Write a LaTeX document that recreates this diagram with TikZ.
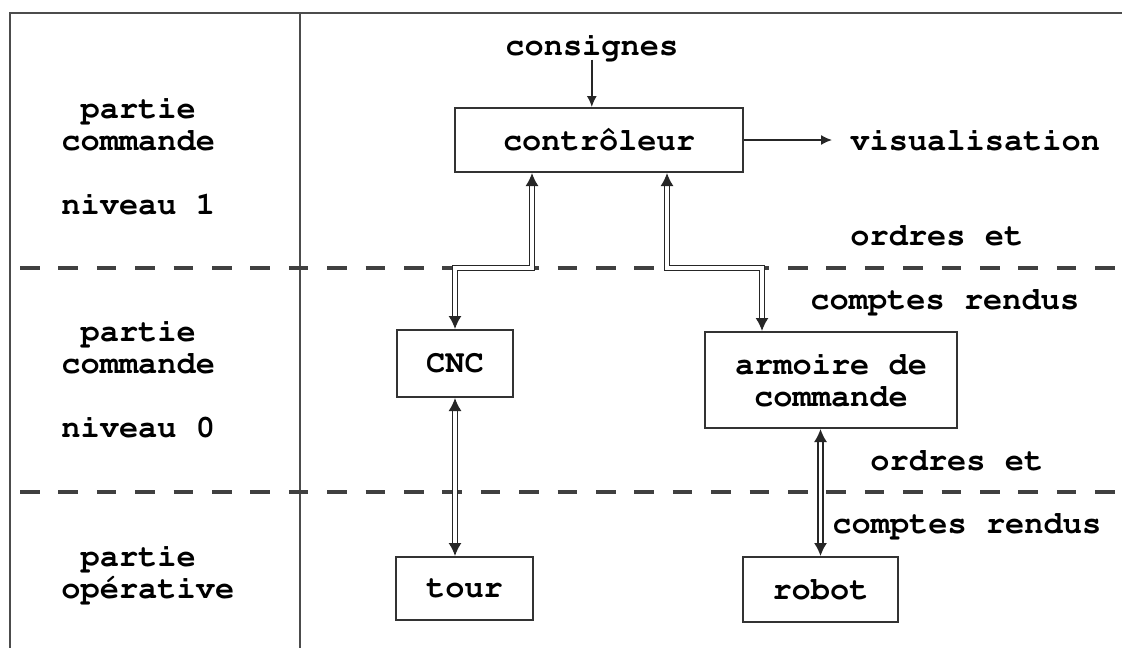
\documentclass[tikz,border=0pt]{standalone}
\usepackage[T1]{fontenc}
\usepackage{courier}
\usetikzlibrary{arrows.meta}

\begin{document}
\begin{tikzpicture}[x=0.5pt,y=-0.5pt,
  txt/.style={font=\fontsize{16}{16}\selectfont\ttfamily\bfseries, inner sep=0pt},
  box/.style={draw=black!80, line width=1pt, txt, align=center},
  frame/.style={draw=black!70, line width=1.4pt},
  sep/.style={draw=black!75, line width=1.6pt, dash pattern=on 9.8pt off 9.4pt},
  link/.style={draw=black!85, line width=0.75pt, double, double distance=1.6pt,
    {Latex[length=6.5pt,width=6.5pt]}-{Latex[length=6.5pt,width=6.5pt]}},
  thin/.style={draw=black!85, line width=0.7pt, -{Latex[length=5.5pt,width=5pt]}}
]
\useasboundingbox (0,0) rectangle (1122,648);

% outer frame and column divider
\draw[frame] (1122,13) -- (10,13) -- (10,648);
\draw[frame] (300,13) -- (300,648);

% level separators
\draw[sep] (20,268) -- (1122,268);
\draw[sep] (20,492) -- (1122,492);

% level names (anchored on the baseline of their last line)
\node[txt, anchor=base west, align=left] (lvlA) at (61,214)
  {\hspace{0.6em}partie\\commande\\\mbox{}\\niveau 1};
\node[txt, anchor=base west, align=left] (lvlB) at (61,437)
  {\hspace{0.6em}partie\\commande\\\mbox{}\\niveau 0};
\node[txt, anchor=base west, align=left] (lvlC) at (61,598)
  {\hspace{0.6em}partie\\op\'erative};

% blocks
\node[box, minimum width=144pt, minimum height=32pt] (ctrl) at (599,140) {contr\^oleur};
\node[box, minimum width=58pt, minimum height=33.5pt] (cnc) at (455,363.5) {CNC};
\node[box, minimum width=126pt, minimum height=48pt] (arm) at (831,380) {armoire de\\commande};
\node[box, minimum width=68.5pt, minimum height=31.5pt] (tour) at (464.5,588.5) {tour};
\node[box, minimum width=77.5pt, minimum height=32.5pt] (robot) at (820.5,589.5) {robot};

% free texts
\node[txt, anchor=base west] (cons) at (505,55) {consignes};
\node[txt, anchor=base west] (visu) at (850,150) {visualisation};
\node[txt, anchor=base west] (ordA) at (850,245) {ordres et};
\node[txt, anchor=base west] (crA) at (810,309) {comptes rendus};
\node[txt, anchor=base west] (ordB) at (870,470) {ordres et};
\node[txt, anchor=base west] (crB) at (832,533) {comptes rendus};

% single arrows
\draw[thin] (cons.south) -- (cons.south |- ctrl.north);
\draw[thin, shorten >=9pt] (ctrl.east) -- (ctrl.east -| visu.west);

% double links
\coordinate (bendL) at (532,268);
\coordinate (bendR) at (667,268);
\coordinate (armIn) at (762,268);
\draw[link] (ctrl.south -| bendL) -- (bendL) -- (bendL -| cnc.north) -- (cnc.north);
\draw[link] (ctrl.south -| bendR) -- (bendR) -- (armIn) -- (armIn |- arm.north);
\draw[link] (cnc.south) -- (cnc.south |- tour.north);
\draw[link] (robot.north) -- (robot.north |- arm.south);
\end{tikzpicture}
\end{document}
